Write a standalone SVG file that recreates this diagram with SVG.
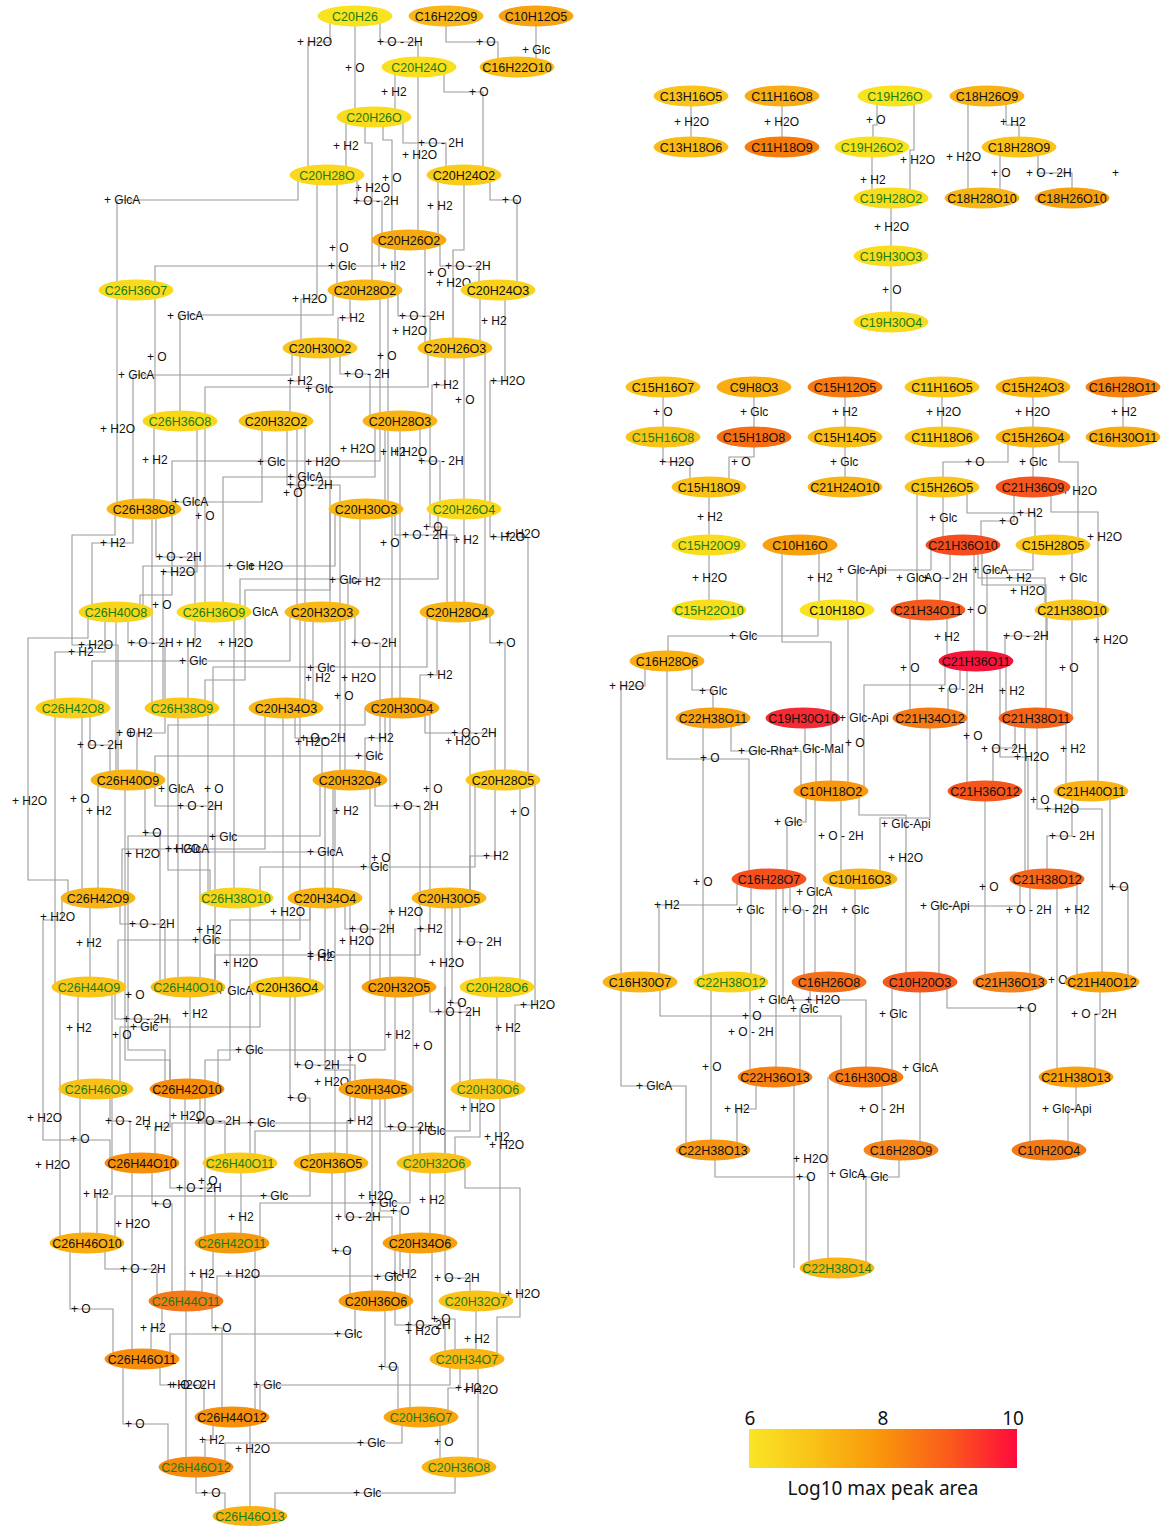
<svg xmlns="http://www.w3.org/2000/svg" width="1163" height="1526" viewBox="0 0 1163 1526">
<defs>
<linearGradient id="legendGrad" x1="0" y1="0" x2="1" y2="0">
<stop offset="0" stop-color="#f9e526"/><stop offset="0.25" stop-color="#f9c016"/><stop offset="0.5" stop-color="#f9940b"/><stop offset="0.75" stop-color="#fb5a1c"/><stop offset="1" stop-color="#ff0a3c"/>
</linearGradient>
<style>
#connectors path{fill:none;stroke:#9a9a9a;stroke-width:1.1}
.l{font-family:"Liberation Sans",Arial,sans-serif;font-size:12px;fill:#111}
.node ellipse{stroke:none}
.node text{font-family:"Liberation Sans",Arial,sans-serif;font-size:12.5px;text-anchor:middle;fill:#111}
.node text.g{fill:#177d0f}
.leg{font-family:"Noto Sans","Open Sans",sans-serif;font-size:19px;fill:#111;text-anchor:middle}
</style>
</defs>
<rect width="1163" height="1526" fill="#fff"/>
<g id="connectors">
<path d="M330,16 V42 H308 V175"/><path d="M380,16 V42 H418 V67"/><path d="M355,16 V117"/><path d="M446,16 V42 H498 V67"/><path d="M536,16 V67"/>
<path d="M395,67 V117"/><path d="M444,67 V92 H483 V175"/><path d="M346,117 V175"/><path d="M403,117 V143 H446 V175"/><path d="M418,67 V240"/>
<path d="M383,117 V140 H392 V240"/><path d="M365,117 V143 H372 V290"/><path d="M357,175 V201 H382 V240"/><path d="M438,175 V240"/><path d="M490,175 V200 H517 V290"/>
<path d="M337,175 V290"/><path d="M379,240 V266 H155 V290"/><path d="M298,175 V200 H117 V290"/><path d="M395,240 V290"/><path d="M425,240 V348"/>
<path d="M440,240 V266 H479 V290"/><path d="M464,175 V250 H453 V348"/><path d="M317,175 V299 H301 V348"/><path d="M333,290 V315 H180 V421"/><path d="M350,290 V318 H338 V348"/>
<path d="M398,290 V316 H430 V348"/><path d="M380,290 V421"/><path d="M388,290 V509"/><path d="M480,290 V348"/><path d="M340,348 V374 H370 V421"/>
<path d="M300,348 V381 H290 V421"/><path d="M428,348 V387 H205 V421"/><path d="M292,348 V375 H133 V509"/><path d="M155,290 V421"/><path d="M445,348 V385 H432 V421"/>
<path d="M505,290 V381 H490 V509"/><path d="M464,348 V509"/><path d="M117,290 V509"/><path d="M154,421 V509"/><path d="M380,421 V461 H172 V509"/>
<path d="M305,421 V708"/><path d="M330,348 V612"/><path d="M385,421 V509"/><path d="M400,421 V708"/><path d="M420,421 V461 H440 V509"/>
<path d="M375,421 V477 H223 V612"/><path d="M287,421 V485 H340 V509"/><path d="M297,421 V612"/><path d="M262,421 V502 H172 V595 H140 V612"/><path d="M205,421 V612"/>
<path d="M133,509 V543 H92 V612"/><path d="M156,509 V557 H195 V612"/><path d="M197,421 V572 H163 V708"/><path d="M335,509 V566 H143 V612"/><path d="M340,509 V780"/>
<path d="M152,509 V708"/><path d="M330,509 V590 H245 V680 H205 V708"/><path d="M128,612 V643 H165 V708"/><path d="M195,612 V643 H188 V708"/><path d="M234,612 V898"/>
<path d="M290,612 V661 H92 V708"/><path d="M427,612 V667 H213 V708"/><path d="M313,612 V708"/><path d="M345,612 V780"/><path d="M355,612 V643 H380 V708"/>
<path d="M437,612 V675 H420 V708"/><path d="M490,612 V643 H505 V780"/><path d="M430,421 V527 H447 V612"/><path d="M395,509 V535 H455 V612"/><path d="M392,509 V708"/>
<path d="M464,509 V612"/><path d="M490,509 V537 H528 V780"/><path d="M485,348 V612"/><path d="M438,509 V579 H240 V612"/><path d="M360,509 V582 H348 V612"/>
<path d="M115,509 V535 H72 V645 H118 V780"/><path d="M105,612 V652 H55 V708"/><path d="M88,612 V638 H28 V880 H68 V898"/><path d="M90,708 V745 H110 V780"/><path d="M116,612 V780"/>
<path d="M165,708 V733 H137 V780"/><path d="M365,708 V725 H168 V870 H210 V898"/><path d="M208,708 V898"/><path d="M82,708 V898"/><path d="M98,780 V898"/>
<path d="M155,780 V806 H215 V898"/><path d="M145,780 V833 H160 V987"/><path d="M320,780 V836 H128 V898"/><path d="M178,708 V987"/><path d="M125,780 V1060 H170 V1089"/>
<path d="M265,708 V849 H122 V898"/><path d="M335,780 V852 H200 V987"/><path d="M430,708 V898"/><path d="M375,780 V806 H420 V898"/><path d="M520,780 V987"/>
<path d="M333,780 V898"/><path d="M370,780 V987"/><path d="M475,780 V867 H260 V898"/><path d="M495,780 V856 H470 V898"/><path d="M283,708 V987"/>
<path d="M300,612 V898"/><path d="M295,708 V738 H322 V780"/><path d="M390,708 V987"/><path d="M345,898 V929 H380 V987"/><path d="M430,898 V929 H415 V987"/>
<path d="M335,898 V1163"/><path d="M460,898 V942 H480 V987"/><path d="M420,898 V955 H215 V987"/><path d="M310,898 V987"/><path d="M445,898 V1163"/>
<path d="M120,898 V924 H165 V987"/><path d="M55,708 V987"/><path d="M90,898 V987"/><path d="M215,898 V987"/><path d="M300,898 V940 H118 V987"/>
<path d="M250,898 V1163"/><path d="M128,898 V1050 H165 V1089"/><path d="M310,898 V920 H230 V1060 H205 V1089"/><path d="M115,987 V1019 H170 V1089"/><path d="M260,987 V1027 H120 V1089"/>
<path d="M112,987 V1163"/><path d="M190,987 V1089"/><path d="M78,987 V1089"/><path d="M385,987 V1050 H218 V1089"/><path d="M295,987 V1065 H355 V1089"/>
<path d="M350,898 V1089"/><path d="M325,780 V1070 H350 V1089"/><path d="M290,987 V1098 H310 V1163"/><path d="M62,898 V920 H43 V1140 H110 V1163"/><path d="M110,1089 V1121 H130 V1163"/>
<path d="M170,1089 V1127 H155 V1163"/><path d="M185,1089 V1301"/><path d="M200,1089 V1121 H225 V1163"/><path d="M350,1089 V1123 H172 V1163"/><path d="M80,1089 V1243"/>
<path d="M60,987 V1243"/><path d="M205,1089 V1243"/><path d="M170,1163 V1188 H215 V1243"/><path d="M310,1163 V1196 H115 V1243"/><path d="M112,1163 V1194 H97 V1243"/>
<path d="M152,1163 V1204 H172 V1301"/><path d="M241,1163 V1243"/><path d="M132,1163 V1359"/><path d="M105,1243 V1269 H157 V1301"/><path d="M213,1243 V1274 H202 V1301"/>
<path d="M255,1243 V1417"/><path d="M70,1243 V1309 H113 V1359"/><path d="M212,1301 V1328 H222 V1417"/><path d="M162,1301 V1328 H151 V1359"/><path d="M160,1359 V1385 H204 V1417"/>
<path d="M186,1301 V1467"/><path d="M450,1359 V1385 H260 V1417"/><path d="M123,1359 V1424 H168 V1467"/><path d="M213,1417 V1440 H205 V1467"/><path d="M250,1417 V1517"/>
<path d="M196,1467 V1493 H225 V1517"/><path d="M455,1467 V1493 H275 V1517"/><path d="M402,1417 V1443 H225 V1467"/><path d="M440,1417 V1467"/><path d="M460,1359 V1388 H448 V1417"/>
<path d="M478,1359 V1467"/><path d="M385,1301 V1367 H398 V1417"/><path d="M355,1301 V1334 H170 V1359"/><path d="M476,1301 V1359"/><path d="M432,1243 V1319 H455 V1359"/>
<path d="M410,1243 V1417"/><path d="M395,1301 V1325 H445 V1359"/><path d="M445,1243 V1278 H470 V1301"/><path d="M465,1163 V1188 H520 V1317 H497 V1359"/><path d="M480,1089 V1137 H455 V1163"/>
<path d="M500,1089 V1301"/><path d="M430,1163 V1243"/><path d="M380,1089 V1211 H400 V1243"/><path d="M372,1089 V1301"/><path d="M410,1163 V1203 H260 V1243"/>
<path d="M345,1163 V1217 H392 V1243"/><path d="M332,1163 V1251 H350 V1301"/><path d="M400,1243 V1276 H217 V1301"/><path d="M395,1243 V1301"/><path d="M452,898 V1003 H460 V1089"/>
<path d="M430,987 V1012 H470 V1089"/><path d="M497,987 V1089"/><path d="M535,780 V1005 H515 V1089"/><path d="M395,987 V1089"/><path d="M413,987 V1163"/>
<path d="M385,1089 V1127 H420 V1163"/><path d="M470,1089 V1131 H255 V1163"/><path d="M445,987 V1243"/><path d="M355,1089 V1121 H347 V1163"/><path d="M380,708 V756 H155 V780"/>
<path d="M385,708 V738 H365 V780"/><path d="M425,708 V733 H495 V780"/><path d="M470,612 V898"/>
<path d="M691,96 V147"/><path d="M782,96 V147"/><path d="M877,96 V125 H873 V147"/><path d="M914,96 V150 H910 V198"/><path d="M872,147 V198"/>
<path d="M891,198 V256"/><path d="M891,256 V322"/><path d="M968,96 V198"/><path d="M1006,96 V125 H1019 V147"/><path d="M1000,147 V198"/>
<path d="M1038,147 V173 H1072 V198"/>
<path d="M663,387 V437"/><path d="M754,387 V437"/><path d="M845,387 V437"/><path d="M942,387 V437"/><path d="M1033,387 V437"/><path d="M1123,387 V437"/>
<path d="M663,437 V462 H690 V487"/><path d="M754,437 V457 H729 V487"/><path d="M845,437 V487"/><path d="M1008,437 V462 H943 V487"/><path d="M1033,437 V487"/>
<path d="M1059,437 V462 H1078 V545"/><path d="M709,487 V545"/><path d="M943,487 V545"/><path d="M967,487 V513 H1035 V545"/><path d="M1014,487 V521 H981 V545"/>
<path d="M1051,487 V512 H1098 V610"/><path d="M709,545 V610"/><path d="M819,545 V610"/><path d="M931,545 V570 H857 V610"/><path d="M917,487 V610"/>
<path d="M950,545 V578 H940 V610"/><path d="M1033,545 V570 H987 V661"/><path d="M978,545 V578 H1045 V610"/><path d="M982,545 V585 H1046 V718"/><path d="M1072,545 V610"/>
<path d="M974,545 V661"/><path d="M818,610 V636 H668 V661"/><path d="M947,610 V661"/><path d="M1047,610 V636 H1005 V661"/><path d="M1098,610 V791"/>
<path d="M645,661 V686 H621 V982"/><path d="M910,610 V718"/><path d="M1072,610 V718"/><path d="M692,661 V690 H713 V718"/><path d="M960,661 V689 H948 V718"/>
<path d="M1006,661 V718"/><path d="M864,791 V685 H945 V661"/><path d="M967,661 V791"/><path d="M731,718 V751 H801 V791"/><path d="M805,718 V749 H816 V791"/>
<path d="M848,610 V791"/><path d="M782,545 V642 H831 V791"/><path d="M930,718 V818 H880 V879"/><path d="M806,791 V822 H787 V879"/><path d="M841,791 V879"/>
<path d="M815,791 V982"/><path d="M859,791 V815 H906 V982"/><path d="M1072,791 V836 H1047 V879"/><path d="M1025,718 V879"/><path d="M1037,718 V809 H1102 V982"/>
<path d="M1015,718 V748 H993 V791"/><path d="M1000,661 V757 H1028 V879"/><path d="M1066,718 V791"/><path d="M667,661 V759 H749 V879"/><path d="M703,718 V982"/>
<path d="M737,879 V905 H659 V982"/><path d="M751,879 V982"/><path d="M790,879 V910 H804 V982"/><path d="M855,879 V982"/><path d="M1020,879 V906 H939 V982"/>
<path d="M985,791 V982"/><path d="M1030,879 V982"/><path d="M1077,879 V982"/><path d="M1110,791 V887 H1128 V982"/><path d="M1057,879 V1077"/>
<path d="M776,879 V1077"/><path d="M783,879 V1000 H866 V1077"/><path d="M810,982 V1009 H800 V1077"/><path d="M660,982 V1016 H841 V1077"/><path d="M892,982 V1077"/>
<path d="M947,982 V1008 H1030 V1150"/><path d="M1100,982 V1014 H1095 V1077"/><path d="M750,982 V1077"/><path d="M711,982 V1150"/><path d="M621,982 V1086 H686 V1150"/>
<path d="M920,982 V1150"/><path d="M756,1077 V1109 H737 V1150"/><path d="M882,1077 V1150"/><path d="M1076,1077 V1109 H1068 V1150"/><path d="M794,1077 V1268"/>
<path d="M715,1150 V1177 H809 V1268"/><path d="M828,1077 V1268"/><path d="M899,1150 V1177 H866 V1268"/>
</g>
<g id="edge-labels" class="l">
<text x="297" y="46">+ H2O</text><text x="377" y="46">+ O - 2H</text><text x="345" y="72">+ O</text><text x="476" y="46">+ O</text><text x="522" y="54">+ Glc</text>
<text x="381" y="96">+ H2</text><text x="469" y="96">+ O</text><text x="333" y="150">+ H2</text><text x="418" y="147">+ O - 2H</text><text x="402" y="159">+ H2O</text>
<text x="382" y="182">+ O</text><text x="355" y="192">+ H2O</text><text x="353" y="205">+ O - 2H</text><text x="427" y="210">+ H2</text><text x="502" y="204">+ O</text>
<text x="329" y="252">+ O</text><text x="328" y="270">+ Glc</text><text x="104" y="204">+ GlcA</text><text x="380" y="270">+ H2</text><text x="427" y="277">+ O</text>
<text x="445" y="270">+ O - 2H</text><text x="436" y="287">+ H2O</text><text x="292" y="303">+ H2O</text><text x="167" y="320">+ GlcA</text><text x="339" y="322">+ H2</text>
<text x="399" y="320">+ O - 2H</text><text x="377" y="360">+ O</text><text x="392" y="335">+ H2O</text><text x="481" y="325">+ H2</text><text x="344" y="378">+ O - 2H</text>
<text x="287" y="385">+ H2</text><text x="305" y="393">+ Glc</text><text x="118" y="379">+ GlcA</text><text x="147" y="361">+ O</text><text x="433" y="389">+ H2</text>
<text x="490" y="385">+ H2O</text><text x="455" y="404">+ O</text><text x="100" y="433">+ H2O</text><text x="142" y="464">+ H2</text><text x="257" y="466">+ Glc</text>
<text x="305" y="466">+ H2O</text><text x="340" y="453">+ H2O</text><text x="380" y="456">+ H2</text><text x="392" y="456">+ H2O</text><text x="418" y="465">+ O - 2H</text>
<text x="287" y="481">+ GlcA</text><text x="287" y="489">+ O - 2H</text><text x="283" y="497">+ O</text><text x="172" y="506">+ GlcA</text><text x="195" y="520">+ O</text>
<text x="100" y="547">+ H2</text><text x="156" y="561">+ O - 2H</text><text x="160" y="576">+ H2O</text><text x="226" y="570">+ Glc</text><text x="248" y="570">+ H2O</text>
<text x="341" y="682">+ H2O</text><text x="152" y="609">+ O</text><text x="242" y="616">+ GlcA</text><text x="128" y="647">+ O - 2H</text><text x="176" y="647">+ H2</text>
<text x="218" y="647">+ H2O</text><text x="179" y="665">+ Glc</text><text x="307" y="672">+ Glc</text><text x="305" y="682">+ H2</text><text x="334" y="700">+ O</text>
<text x="351" y="647">+ O - 2H</text><text x="427" y="679">+ H2</text><text x="496" y="647">+ O</text><text x="423" y="531">+ O</text><text x="402" y="539">+ O - 2H</text>
<text x="380" y="547">+ O</text><text x="453" y="544">+ H2</text><text x="490" y="541">+ H2O</text><text x="505" y="538">+ H2O</text><text x="329" y="584">+ Glc</text>
<text x="355" y="586">+ H2</text><text x="78" y="649">+ H2O</text><text x="68" y="656">+ H2</text><text x="12" y="805">+ H2O</text><text x="77" y="749">+ O - 2H</text>
<text x="116" y="737">+ O</text><text x="127" y="737">+ H2</text><text x="158" y="793">+ GlcA</text><text x="204" y="793">+ O</text><text x="70" y="803">+ O</text>
<text x="86" y="815">+ H2</text><text x="177" y="810">+ O - 2H</text><text x="142" y="837">+ O</text><text x="209" y="841">+ Glc</text><text x="125" y="858">+ H2O</text>
<text x="165" y="853">+ H2O</text><text x="173" y="853">+ GlcA</text><text x="307" y="856">+ GlcA</text><text x="423" y="793">+ O</text><text x="393" y="810">+ O - 2H</text>
<text x="510" y="816">+ O</text><text x="333" y="815">+ H2</text><text x="371" y="862">+ O</text><text x="360" y="871">+ Glc</text><text x="483" y="860">+ H2</text>
<text x="270" y="916">+ H2O</text><text x="295" y="746">+ H2O</text><text x="300" y="742">+ O - 2H</text><text x="388" y="916">+ H2O</text><text x="349" y="933">+ O - 2H</text>
<text x="417" y="933">+ H2</text><text x="339" y="945">+ H2O</text><text x="456" y="946">+ O - 2H</text><text x="307" y="958">+ Glc</text><text x="307" y="961">+ H2</text>
<text x="429" y="967">+ H2O</text><text x="129" y="928">+ O - 2H</text><text x="40" y="921">+ H2O</text><text x="76" y="947">+ H2</text><text x="196" y="934">+ H2</text>
<text x="192" y="944">+ Glc</text><text x="223" y="967">+ H2O</text><text x="125" y="999">+ O</text><text x="217" y="995">+ GlcA</text><text x="123" y="1023">+ O - 2H</text>
<text x="130" y="1031">+ Glc</text><text x="112" y="1039">+ O</text><text x="182" y="1018">+ H2</text><text x="66" y="1032">+ H2</text><text x="235" y="1054">+ Glc</text>
<text x="294" y="1069">+ O - 2H</text><text x="347" y="1062">+ O</text><text x="314" y="1086">+ H2O</text><text x="287" y="1102">+ O</text><text x="27" y="1122">+ H2O</text>
<text x="105" y="1125">+ O - 2H</text><text x="144" y="1131">+ H2</text><text x="170" y="1120">+ H2O</text><text x="195" y="1125">+ O - 2H</text><text x="247" y="1127">+ Glc</text>
<text x="70" y="1143">+ O</text><text x="35" y="1169">+ H2O</text><text x="198" y="1185">+ O</text><text x="176" y="1192">+ O - 2H</text><text x="260" y="1200">+ Glc</text>
<text x="83" y="1198">+ H2</text><text x="152" y="1208">+ O</text><text x="228" y="1221">+ H2</text><text x="115" y="1228">+ H2O</text><text x="120" y="1273">+ O - 2H</text>
<text x="189" y="1278">+ H2</text><text x="225" y="1278">+ H2O</text><text x="71" y="1313">+ O</text><text x="212" y="1332">+ O</text><text x="140" y="1332">+ H2</text>
<text x="170" y="1389">+ O - 2H</text><text x="167" y="1389">+ H2O</text><text x="253" y="1389">+ Glc</text><text x="125" y="1428">+ O</text><text x="199" y="1444">+ H2</text>
<text x="235" y="1453">+ H2O</text><text x="201" y="1497">+ O</text><text x="353" y="1497">+ Glc</text><text x="357" y="1447">+ Glc</text><text x="434" y="1446">+ O</text>
<text x="455" y="1392">+ H2</text><text x="463" y="1394">+ H2O</text><text x="378" y="1371">+ O</text><text x="334" y="1338">+ Glc</text><text x="464" y="1343">+ H2</text>
<text x="431" y="1323">+ O</text><text x="405" y="1335">+ H2O</text><text x="405" y="1329">+ O - 2H</text><text x="434" y="1282">+ O - 2H</text><text x="505" y="1298">+ H2O</text>
<text x="484" y="1141">+ H2</text><text x="489" y="1149">+ H2O</text><text x="419" y="1204">+ H2</text><text x="390" y="1215">+ O</text><text x="358" y="1200">+ H2O</text>
<text x="369" y="1207">+ Glc</text><text x="335" y="1221">+ O - 2H</text><text x="332" y="1255">+ O</text><text x="374" y="1281">+ Glc</text><text x="391" y="1278">+ H2</text>
<text x="447" y="1007">+ O</text><text x="435" y="1016">+ O - 2H</text><text x="495" y="1032">+ H2</text><text x="520" y="1009">+ H2O</text><text x="385" y="1039">+ H2</text>
<text x="413" y="1050">+ O</text><text x="387" y="1131">+ O - 2H</text><text x="417" y="1135">+ Glc</text><text x="460" y="1112">+ H2O</text><text x="347" y="1125">+ H2</text>
<text x="355" y="760">+ Glc</text><text x="368" y="742">+ H2</text><text x="451" y="737">+ O - 2H</text><text x="445" y="745">+ H2O</text>
<text x="674" y="126">+ H2O</text><text x="764" y="126">+ H2O</text><text x="866" y="124">+ O</text><text x="900" y="164">+ H2O</text><text x="860" y="184">+ H2</text>
<text x="874" y="231">+ H2O</text><text x="882" y="294">+ O</text><text x="946" y="161">+ H2O</text><text x="1000" y="126">+ H2</text><text x="991" y="177">+ O</text>
<text x="1026" y="177">+ O - 2H</text><text x="1112" y="177">+</text>
<text x="653" y="416">+ O</text><text x="740" y="416">+ Glc</text><text x="832" y="416">+ H2</text><text x="926" y="416">+ H2O</text><text x="1015" y="416">+ H2O</text>
<text x="1111" y="416">+ H2</text><text x="659" y="466">+ H2O</text><text x="731" y="466">+ O</text><text x="830" y="466">+ Glc</text><text x="965" y="466">+ O</text>
<text x="1019" y="466">+ Glc</text><text x="1062" y="495">+ H2O</text><text x="697" y="521">+ H2</text><text x="929" y="522">+ Glc</text><text x="1017" y="517">+ H2</text>
<text x="999" y="525">+ O</text><text x="1087" y="541">+ H2O</text><text x="692" y="582">+ H2O</text><text x="807" y="582">+ H2</text><text x="837" y="574">+ Glc-Api</text>
<text x="896" y="582">+ GlcA</text><text x="922" y="582">+ O - 2H</text><text x="972" y="574">+ GlcA</text><text x="1006" y="582">+ H2</text><text x="1010" y="595">+ H2O</text>
<text x="1059" y="582">+ Glc</text><text x="967" y="614">+ O</text><text x="729" y="640">+ Glc</text><text x="934" y="641">+ H2</text><text x="1003" y="640">+ O - 2H</text>
<text x="1093" y="644">+ H2O</text><text x="609" y="690">+ H2O</text><text x="900" y="672">+ O</text><text x="1059" y="672">+ O</text><text x="699" y="695">+ Glc</text>
<text x="938" y="693">+ O - 2H</text><text x="999" y="695">+ H2</text><text x="839" y="722">+ Glc-Api</text><text x="963" y="740">+ O</text><text x="738" y="755">+ Glc-Rha</text>
<text x="792" y="753">+ Glc-Mal</text><text x="845" y="747">+ O</text><text x="981" y="753">+ O - 2H</text><text x="1014" y="761">+ H2O</text><text x="1060" y="753">+ H2</text>
<text x="700" y="762">+ O</text><text x="1030" y="804">+ O</text><text x="1044" y="813">+ H2O</text><text x="774" y="826">+ Glc</text><text x="881" y="828">+ Glc-Api</text>
<text x="818" y="840">+ O - 2H</text><text x="1049" y="840">+ O - 2H</text><text x="888" y="862">+ H2O</text><text x="693" y="886">+ O</text><text x="654" y="909">+ H2</text>
<text x="796" y="896">+ GlcA</text><text x="736" y="914">+ Glc</text><text x="782" y="914">+ O - 2H</text><text x="841" y="914">+ Glc</text><text x="920" y="910">+ Glc-Api</text>
<text x="979" y="891">+ O</text><text x="1006" y="914">+ O - 2H</text><text x="1064" y="914">+ H2</text><text x="1109" y="891">+ O</text><text x="1048" y="984">+ O</text>
<text x="758" y="1004">+ GlcA</text><text x="805" y="1004">+ H2O</text><text x="790" y="1013">+ Glc</text><text x="742" y="1020">+ O</text><text x="879" y="1018">+ Glc</text>
<text x="1017" y="1012">+ O</text><text x="1071" y="1018">+ O - 2H</text><text x="728" y="1036">+ O - 2H</text><text x="702" y="1071">+ O</text><text x="636" y="1090">+ GlcA</text>
<text x="902" y="1072">+ GlcA</text><text x="724" y="1113">+ H2</text><text x="859" y="1113">+ O - 2H</text><text x="1042" y="1113">+ Glc-Api</text><text x="793" y="1163">+ H2O</text>
<text x="796" y="1181">+ O</text><text x="829" y="1178">+ GlcA</text><text x="860" y="1181">+ Glc</text>
</g>
<g id="nodes">
<g id="C20H26" class="node"><ellipse cx="355" cy="16" rx="37.5" ry="10.5" fill="#f9e21f"/><text x="355" y="20.5" class="g">C20H26</text></g>
<g id="C16H22O9" class="node"><ellipse cx="446" cy="16" rx="37.5" ry="10.5" fill="#f8b716"/><text x="446" y="20.5">C16H22O9</text></g>
<g id="C10H12O5" class="node"><ellipse cx="536" cy="16" rx="37.5" ry="10.5" fill="#f7a20e"/><text x="536" y="20.5">C10H12O5</text></g>
<g id="C20H24O" class="node"><ellipse cx="419" cy="67" rx="37.5" ry="10.5" fill="#f9df1e"/><text x="419" y="71.5" class="g">C20H24O</text></g>
<g id="C16H22O10" class="node"><ellipse cx="517" cy="67" rx="37.5" ry="10.5" fill="#f8bd17"/><text x="517" y="71.5">C16H22O10</text></g>
<g id="C20H26O" class="node"><ellipse cx="374" cy="117" rx="37.5" ry="10.5" fill="#f9dc1e"/><text x="374" y="121.5" class="g">C20H26O</text></g>
<g id="C20H28O" class="node"><ellipse cx="327" cy="175" rx="37.5" ry="10.5" fill="#f9d81d"/><text x="327" y="179.5" class="g">C20H28O</text></g>
<g id="C20H24O2" class="node"><ellipse cx="464" cy="175" rx="37.5" ry="10.5" fill="#f9cc1b"/><text x="464" y="179.5">C20H24O2</text></g>
<g id="C20H26O2" class="node"><ellipse cx="409" cy="240" rx="37.5" ry="10.5" fill="#f7aa0f"/><text x="409" y="244.5">C20H26O2</text></g>
<g id="C26H36O7" class="node"><ellipse cx="136" cy="290" rx="37.5" ry="10.5" fill="#f9da1d"/><text x="136" y="294.5" class="g">C26H36O7</text></g>
<g id="C20H28O2" class="node"><ellipse cx="365" cy="290" rx="37.5" ry="10.5" fill="#f8b814"/><text x="365" y="294.5">C20H28O2</text></g>
<g id="C20H24O3" class="node"><ellipse cx="498" cy="290" rx="37.5" ry="10.5" fill="#f9d21c"/><text x="498" y="294.5">C20H24O3</text></g>
<g id="C20H30O2" class="node"><ellipse cx="320" cy="348" rx="37.5" ry="10.5" fill="#f9c31a"/><text x="320" y="352.5">C20H30O2</text></g>
<g id="C20H26O3" class="node"><ellipse cx="455" cy="348" rx="37.5" ry="10.5" fill="#f9c31a"/><text x="455" y="352.5">C20H26O3</text></g>
<g id="C26H36O8" class="node"><ellipse cx="180" cy="421" rx="37.5" ry="10.5" fill="#f9d71d"/><text x="180" y="425.5" class="g">C26H36O8</text></g>
<g id="C20H32O2" class="node"><ellipse cx="276" cy="421" rx="37.5" ry="10.5" fill="#f9c41a"/><text x="276" y="425.5">C20H32O2</text></g>
<g id="C20H28O3" class="node"><ellipse cx="400" cy="421" rx="37.5" ry="10.5" fill="#f8b314"/><text x="400" y="425.5">C20H28O3</text></g>
<g id="C26H38O8" class="node"><ellipse cx="144" cy="509" rx="37.5" ry="10.5" fill="#f8b514"/><text x="144" y="513.5">C26H38O8</text></g>
<g id="C20H30O3" class="node"><ellipse cx="366" cy="509" rx="37.5" ry="10.5" fill="#f8b814"/><text x="366" y="513.5">C20H30O3</text></g>
<g id="C20H26O4" class="node"><ellipse cx="464" cy="509" rx="37.5" ry="10.5" fill="#f9d81d"/><text x="464" y="513.5" class="g">C20H26O4</text></g>
<g id="C26H40O8" class="node"><ellipse cx="116" cy="612" rx="37.5" ry="10.5" fill="#f9d41c"/><text x="116" y="616.5" class="g">C26H40O8</text></g>
<g id="C26H36O9" class="node"><ellipse cx="214" cy="612" rx="37.5" ry="10.5" fill="#f9d81d"/><text x="214" y="616.5" class="g">C26H36O9</text></g>
<g id="C20H32O3" class="node"><ellipse cx="322" cy="612" rx="37.5" ry="10.5" fill="#f8b816"/><text x="322" y="616.5">C20H32O3</text></g>
<g id="C20H28O4" class="node"><ellipse cx="457" cy="612" rx="37.5" ry="10.5" fill="#f8b614"/><text x="457" y="616.5">C20H28O4</text></g>
<g id="C26H42O8" class="node"><ellipse cx="73" cy="708" rx="37.5" ry="10.5" fill="#f9cf1c"/><text x="73" y="712.5" class="g">C26H42O8</text></g>
<g id="C26H38O9" class="node"><ellipse cx="182" cy="708" rx="37.5" ry="10.5" fill="#f9c81a"/><text x="182" y="712.5" class="g">C26H38O9</text></g>
<g id="C20H34O3" class="node"><ellipse cx="286" cy="708" rx="37.5" ry="10.5" fill="#f8b714"/><text x="286" y="712.5">C20H34O3</text></g>
<g id="C20H30O4" class="node"><ellipse cx="402" cy="708" rx="37.5" ry="10.5" fill="#f7a50f"/><text x="402" y="712.5">C20H30O4</text></g>
<g id="C26H40O9" class="node"><ellipse cx="128" cy="780" rx="37.5" ry="10.5" fill="#f8b414"/><text x="128" y="784.5">C26H40O9</text></g>
<g id="C20H32O4" class="node"><ellipse cx="350" cy="780" rx="37.5" ry="10.5" fill="#f7a70f"/><text x="350" y="784.5">C20H32O4</text></g>
<g id="C20H28O5" class="node"><ellipse cx="503" cy="780" rx="37.5" ry="10.5" fill="#f9c71a"/><text x="503" y="784.5">C20H28O5</text></g>
<g id="C26H42O9" class="node"><ellipse cx="98" cy="898" rx="37.5" ry="10.5" fill="#f8b314"/><text x="98" y="902.5">C26H42O9</text></g>
<g id="C26H38O10" class="node"><ellipse cx="236" cy="898" rx="37.5" ry="10.5" fill="#f9d21c"/><text x="236" y="902.5" class="g">C26H38O10</text></g>
<g id="C20H34O4" class="node"><ellipse cx="325" cy="898" rx="37.5" ry="10.5" fill="#f8b514"/><text x="325" y="902.5">C20H34O4</text></g>
<g id="C20H30O5" class="node"><ellipse cx="449" cy="898" rx="37.5" ry="10.5" fill="#f8b514"/><text x="449" y="902.5">C20H30O5</text></g>
<g id="C26H44O9" class="node"><ellipse cx="89" cy="987" rx="37.5" ry="10.5" fill="#f9c51a"/><text x="89" y="991.5" class="g">C26H44O9</text></g>
<g id="C26H40O10" class="node"><ellipse cx="188" cy="987" rx="37.5" ry="10.5" fill="#f8be17"/><text x="188" y="991.5" class="g">C26H40O10</text></g>
<g id="C20H36O4" class="node"><ellipse cx="287" cy="987" rx="37.5" ry="10.5" fill="#f9cc1b"/><text x="287" y="991.5">C20H36O4</text></g>
<g id="C20H32O5" class="node"><ellipse cx="399" cy="987" rx="37.5" ry="10.5" fill="#f7a00d"/><text x="399" y="991.5">C20H32O5</text></g>
<g id="C20H28O6" class="node"><ellipse cx="497" cy="987" rx="37.5" ry="10.5" fill="#f9d41c"/><text x="497" y="991.5" class="g">C20H28O6</text></g>
<g id="C26H46O9" class="node"><ellipse cx="96" cy="1089" rx="37.5" ry="10.5" fill="#f9c21a"/><text x="96" y="1093.5" class="g">C26H46O9</text></g>
<g id="C26H42O10" class="node"><ellipse cx="187" cy="1089" rx="37.5" ry="10.5" fill="#f68e0c"/><text x="187" y="1093.5">C26H42O10</text></g>
<g id="C20H34O5" class="node"><ellipse cx="376" cy="1089" rx="37.5" ry="10.5" fill="#f7a20e"/><text x="376" y="1093.5">C20H34O5</text></g>
<g id="C20H30O6" class="node"><ellipse cx="488" cy="1089" rx="37.5" ry="10.5" fill="#f9c41a"/><text x="488" y="1093.5" class="g">C20H30O6</text></g>
<g id="C26H44O10" class="node"><ellipse cx="142" cy="1163" rx="37.5" ry="10.5" fill="#f68f0c"/><text x="142" y="1167.5">C26H44O10</text></g>
<g id="C26H40O11" class="node"><ellipse cx="240" cy="1163" rx="37.5" ry="10.5" fill="#f9cc1b"/><text x="240" y="1167.5" class="g">C26H40O11</text></g>
<g id="C20H36O5" class="node"><ellipse cx="331" cy="1163" rx="37.5" ry="10.5" fill="#f8b614"/><text x="331" y="1167.5">C20H36O5</text></g>
<g id="C20H32O6" class="node"><ellipse cx="434" cy="1163" rx="37.5" ry="10.5" fill="#f9c21a"/><text x="434" y="1167.5" class="g">C20H32O6</text></g>
<g id="C26H46O10" class="node"><ellipse cx="87" cy="1243" rx="37.5" ry="10.5" fill="#f8ad12"/><text x="87" y="1247.5">C26H46O10</text></g>
<g id="C26H42O11" class="node"><ellipse cx="232" cy="1243" rx="37.5" ry="10.5" fill="#f69a0d"/><text x="232" y="1247.5" class="g">C26H42O11</text></g>
<g id="C20H34O6" class="node"><ellipse cx="420" cy="1243" rx="37.5" ry="10.5" fill="#f7a00e"/><text x="420" y="1247.5">C20H34O6</text></g>
<g id="C26H44O11" class="node"><ellipse cx="186" cy="1301" rx="37.5" ry="10.5" fill="#f5791a"/><text x="186" y="1305.5" class="g">C26H44O11</text></g>
<g id="C20H36O6" class="node"><ellipse cx="376" cy="1301" rx="37.5" ry="10.5" fill="#f79c0e"/><text x="376" y="1305.5">C20H36O6</text></g>
<g id="C20H32O7" class="node"><ellipse cx="476" cy="1301" rx="37.5" ry="10.5" fill="#f9c41a"/><text x="476" y="1305.5" class="g">C20H32O7</text></g>
<g id="C26H46O11" class="node"><ellipse cx="142" cy="1359" rx="37.5" ry="10.5" fill="#f68e0c"/><text x="142" y="1363.5">C26H46O11</text></g>
<g id="C20H34O7" class="node"><ellipse cx="467" cy="1359" rx="37.5" ry="10.5" fill="#f8b514"/><text x="467" y="1363.5" class="g">C20H34O7</text></g>
<g id="C26H44O12" class="node"><ellipse cx="232" cy="1417" rx="37.5" ry="10.5" fill="#f6900c"/><text x="232" y="1421.5">C26H44O12</text></g>
<g id="C20H36O7" class="node"><ellipse cx="421" cy="1417" rx="37.5" ry="10.5" fill="#f8a50f"/><text x="421" y="1421.5" class="g">C20H36O7</text></g>
<g id="C26H46O12" class="node"><ellipse cx="196" cy="1467" rx="37.5" ry="10.5" fill="#f68a0d"/><text x="196" y="1471.5" class="g">C26H46O12</text></g>
<g id="C20H36O8" class="node"><ellipse cx="459" cy="1467" rx="37.5" ry="10.5" fill="#f8b514"/><text x="459" y="1471.5" class="g">C20H36O8</text></g>
<g id="C26H46O13" class="node"><ellipse cx="250" cy="1516" rx="37.5" ry="10" fill="#f8b013"/><text x="250" y="1520.5" class="g">C26H46O13</text></g>
<g id="C13H16O5" class="node"><ellipse cx="691" cy="96" rx="37.5" ry="10.5" fill="#f9c31a"/><text x="691" y="100.5">C13H16O5</text></g>
<g id="C11H16O8" class="node"><ellipse cx="782" cy="96" rx="37.5" ry="10.5" fill="#f8ab12"/><text x="782" y="100.5">C11H16O8</text></g>
<g id="C19H26O" class="node"><ellipse cx="895" cy="96" rx="37.5" ry="10.5" fill="#f9e21f"/><text x="895" y="100.5" class="g">C19H26O</text></g>
<g id="C18H26O9" class="node"><ellipse cx="987" cy="96" rx="37.5" ry="10.5" fill="#f8b214"/><text x="987" y="100.5">C18H26O9</text></g>
<g id="C13H18O6" class="node"><ellipse cx="691" cy="147" rx="37.5" ry="10.5" fill="#f9bc17"/><text x="691" y="151.5">C13H18O6</text></g>
<g id="C11H18O9" class="node"><ellipse cx="782" cy="147" rx="37.5" ry="10.5" fill="#f57c0c"/><text x="782" y="151.5">C11H18O9</text></g>
<g id="C19H26O2" class="node"><ellipse cx="872" cy="147" rx="37.5" ry="10.5" fill="#f9e01f"/><text x="872" y="151.5" class="g">C19H26O2</text></g>
<g id="C18H28O9" class="node"><ellipse cx="1019" cy="147" rx="37.5" ry="10.5" fill="#f9c31a"/><text x="1019" y="151.5">C18H28O9</text></g>
<g id="C19H28O2" class="node"><ellipse cx="891" cy="198" rx="37.5" ry="10.5" fill="#f9dc1e"/><text x="891" y="202.5" class="g">C19H28O2</text></g>
<g id="C18H28O10" class="node"><ellipse cx="982" cy="198" rx="37.5" ry="10.5" fill="#f8b514"/><text x="982" y="202.5">C18H28O10</text></g>
<g id="C18H26O10" class="node"><ellipse cx="1072" cy="198" rx="37.5" ry="10.5" fill="#f7a00e"/><text x="1072" y="202.5">C18H26O10</text></g>
<g id="C19H30O3" class="node"><ellipse cx="891" cy="256" rx="37.5" ry="10.5" fill="#f9dc1e"/><text x="891" y="260.5" class="g">C19H30O3</text></g>
<g id="C19H30O4" class="node"><ellipse cx="891" cy="322" rx="37.5" ry="10.5" fill="#f9dc1e"/><text x="891" y="326.5" class="g">C19H30O4</text></g>
<g id="C15H16O7" class="node"><ellipse cx="663" cy="387" rx="37.5" ry="10.5" fill="#f9c21a"/><text x="663" y="391.5">C15H16O7</text></g>
<g id="C9H8O3" class="node"><ellipse cx="754" cy="387" rx="37.5" ry="10.5" fill="#f8ad12"/><text x="754" y="391.5">C9H8O3</text></g>
<g id="C15H12O5" class="node"><ellipse cx="845" cy="387" rx="37.5" ry="10.5" fill="#f57a12"/><text x="845" y="391.5">C15H12O5</text></g>
<g id="C11H16O5" class="node"><ellipse cx="942" cy="387" rx="37.5" ry="10.5" fill="#f9c71a"/><text x="942" y="391.5">C11H16O5</text></g>
<g id="C15H24O3" class="node"><ellipse cx="1033" cy="387" rx="37.5" ry="10.5" fill="#f8b514"/><text x="1033" y="391.5">C15H24O3</text></g>
<g id="C16H28O11" class="node"><ellipse cx="1123" cy="387" rx="37.5" ry="10.5" fill="#f68212"/><text x="1123" y="391.5">C16H28O11</text></g>
<g id="C15H16O8" class="node"><ellipse cx="663" cy="437" rx="37.5" ry="10.5" fill="#f9c31a"/><text x="663" y="441.5" class="g">C15H16O8</text></g>
<g id="C15H18O8" class="node"><ellipse cx="754" cy="437" rx="37.5" ry="10.5" fill="#f56e14"/><text x="754" y="441.5">C15H18O8</text></g>
<g id="C15H14O5" class="node"><ellipse cx="845" cy="437" rx="37.5" ry="10.5" fill="#f9bd17"/><text x="845" y="441.5">C15H14O5</text></g>
<g id="C11H18O6" class="node"><ellipse cx="942" cy="437" rx="37.5" ry="10.5" fill="#f9c81a"/><text x="942" y="441.5">C11H18O6</text></g>
<g id="C15H26O4" class="node"><ellipse cx="1033" cy="437" rx="37.5" ry="10.5" fill="#f8b314"/><text x="1033" y="441.5">C15H26O4</text></g>
<g id="C16H30O11" class="node"><ellipse cx="1123" cy="437" rx="37.5" ry="10.5" fill="#f8ac12"/><text x="1123" y="441.5">C16H30O11</text></g>
<g id="C15H18O9" class="node"><ellipse cx="709" cy="487" rx="37.5" ry="10.5" fill="#f9c21a"/><text x="709" y="491.5">C15H18O9</text></g>
<g id="C21H24O10" class="node"><ellipse cx="845" cy="487" rx="37.5" ry="10.5" fill="#f8b414"/><text x="845" y="491.5">C21H24O10</text></g>
<g id="C15H26O5" class="node"><ellipse cx="942" cy="487" rx="37.5" ry="10.5" fill="#f9c51a"/><text x="942" y="491.5">C15H26O5</text></g>
<g id="C21H36O9" class="node"><ellipse cx="1033" cy="487" rx="37.5" ry="10.5" fill="#f5561e"/><text x="1033" y="491.5">C21H36O9</text></g>
<g id="C15H20O9" class="node"><ellipse cx="709" cy="545" rx="37.5" ry="10.5" fill="#f9dc1e"/><text x="709" y="549.5" class="g">C15H20O9</text></g>
<g id="C10H16O" class="node"><ellipse cx="800" cy="545" rx="37.5" ry="10.5" fill="#f8a00e"/><text x="800" y="549.5">C10H16O</text></g>
<g id="C21H36O10" class="node"><ellipse cx="963" cy="545" rx="37.5" ry="10.5" fill="#f54d1f"/><text x="963" y="549.5">C21H36O10</text></g>
<g id="C15H28O5" class="node"><ellipse cx="1053" cy="545" rx="37.5" ry="10.5" fill="#f9c81a"/><text x="1053" y="549.5">C15H28O5</text></g>
<g id="C15H22O10" class="node"><ellipse cx="709" cy="610" rx="37.5" ry="10.5" fill="#f9de1e"/><text x="709" y="614.5" class="g">C15H22O10</text></g>
<g id="C10H18O" class="node"><ellipse cx="837" cy="610" rx="37.5" ry="10.5" fill="#f9e21f"/><text x="837" y="614.5">C10H18O</text></g>
<g id="C21H34O11" class="node"><ellipse cx="928" cy="610" rx="37.5" ry="10.5" fill="#f55a1c"/><text x="928" y="614.5">C21H34O11</text></g>
<g id="C21H38O10" class="node"><ellipse cx="1072" cy="610" rx="37.5" ry="10.5" fill="#f9c81a"/><text x="1072" y="614.5">C21H38O10</text></g>
<g id="C16H28O6" class="node"><ellipse cx="667" cy="661" rx="37.5" ry="10.5" fill="#f8b012"/><text x="667" y="665.5">C16H28O6</text></g>
<g id="C21H36O11" class="node"><ellipse cx="976" cy="661" rx="37.5" ry="10.5" fill="#f5143a"/><text x="976" y="665.5">C21H36O11</text></g>
<g id="C22H38O11" class="node"><ellipse cx="713" cy="718" rx="37.5" ry="10.5" fill="#f8a00e"/><text x="713" y="722.5">C22H38O11</text></g>
<g id="C19H30O10" class="node"><ellipse cx="803" cy="718" rx="37.5" ry="10.5" fill="#f52a32"/><text x="803" y="722.5">C19H30O10</text></g>
<g id="C21H34O12" class="node"><ellipse cx="930" cy="718" rx="37.5" ry="10.5" fill="#f67a14"/><text x="930" y="722.5">C21H34O12</text></g>
<g id="C21H38O11" class="node"><ellipse cx="1036" cy="718" rx="37.5" ry="10.5" fill="#f66418"/><text x="1036" y="722.5">C21H38O11</text></g>
<g id="C10H18O2" class="node"><ellipse cx="831" cy="791" rx="37.5" ry="10.5" fill="#f7980e"/><text x="831" y="795.5">C10H18O2</text></g>
<g id="C21H36O12" class="node"><ellipse cx="985" cy="791" rx="37.5" ry="10.5" fill="#f5561c"/><text x="985" y="795.5">C21H36O12</text></g>
<g id="C21H40O11" class="node"><ellipse cx="1091" cy="791" rx="37.5" ry="10.5" fill="#f9b414"/><text x="1091" y="795.5">C21H40O11</text></g>
<g id="C16H28O7" class="node"><ellipse cx="769" cy="879" rx="37.5" ry="10.5" fill="#f5501e"/><text x="769" y="883.5">C16H28O7</text></g>
<g id="C10H16O3" class="node"><ellipse cx="860" cy="879" rx="37.5" ry="10.5" fill="#f8b414"/><text x="860" y="883.5">C10H16O3</text></g>
<g id="C21H38O12" class="node"><ellipse cx="1047" cy="879" rx="37.5" ry="10.5" fill="#f5661a"/><text x="1047" y="883.5">C21H38O12</text></g>
<g id="C16H30O7" class="node"><ellipse cx="640" cy="982" rx="37.5" ry="10.5" fill="#f8b314"/><text x="640" y="986.5">C16H30O7</text></g>
<g id="C22H38O12" class="node"><ellipse cx="731" cy="982" rx="37.5" ry="10.5" fill="#f9d21c"/><text x="731" y="986.5" class="g">C22H38O12</text></g>
<g id="C16H26O8" class="node"><ellipse cx="829" cy="982" rx="37.5" ry="10.5" fill="#f56e18"/><text x="829" y="986.5">C16H26O8</text></g>
<g id="C10H20O3" class="node"><ellipse cx="920" cy="982" rx="37.5" ry="10.5" fill="#f5581c"/><text x="920" y="986.5">C10H20O3</text></g>
<g id="C21H36O13" class="node"><ellipse cx="1010" cy="982" rx="37.5" ry="10.5" fill="#f6821a"/><text x="1010" y="986.5">C21H36O13</text></g>
<g id="C21H40O12" class="node"><ellipse cx="1102" cy="982" rx="37.5" ry="10.5" fill="#f8a20e"/><text x="1102" y="986.5">C21H40O12</text></g>
<g id="C22H36O13" class="node"><ellipse cx="775" cy="1077" rx="37.5" ry="10.5" fill="#f68012"/><text x="775" y="1081.5">C22H36O13</text></g>
<g id="C16H30O8" class="node"><ellipse cx="866" cy="1077" rx="37.5" ry="10.5" fill="#f67a14"/><text x="866" y="1081.5">C16H30O8</text></g>
<g id="C21H38O13" class="node"><ellipse cx="1076" cy="1077" rx="37.5" ry="10.5" fill="#f8a010"/><text x="1076" y="1081.5">C21H38O13</text></g>
<g id="C22H38O13" class="node"><ellipse cx="713" cy="1150" rx="37.5" ry="10.5" fill="#f79410"/><text x="713" y="1154.5">C22H38O13</text></g>
<g id="C16H28O9" class="node"><ellipse cx="901" cy="1150" rx="37.5" ry="10.5" fill="#f6861a"/><text x="901" y="1154.5">C16H28O9</text></g>
<g id="C10H20O4" class="node"><ellipse cx="1049" cy="1150" rx="37.5" ry="10.5" fill="#f67a14"/><text x="1049" y="1154.5">C10H20O4</text></g>
<g id="C22H38O14" class="node"><ellipse cx="837" cy="1268" rx="37.5" ry="10.5" fill="#f8b314"/><text x="837" y="1272.5" class="g">C22H38O14</text></g>
</g>
<g id="legend">
<rect x="749" y="1429" width="268" height="39" fill="url(#legendGrad)"/>
<text class="leg" x="750" y="1425">6</text>
<text class="leg" x="883" y="1425">8</text>
<text class="leg" x="1013" y="1425">10</text>
<text class="leg" x="883" y="1495">Log10 max peak area</text>
</g>
</svg>
